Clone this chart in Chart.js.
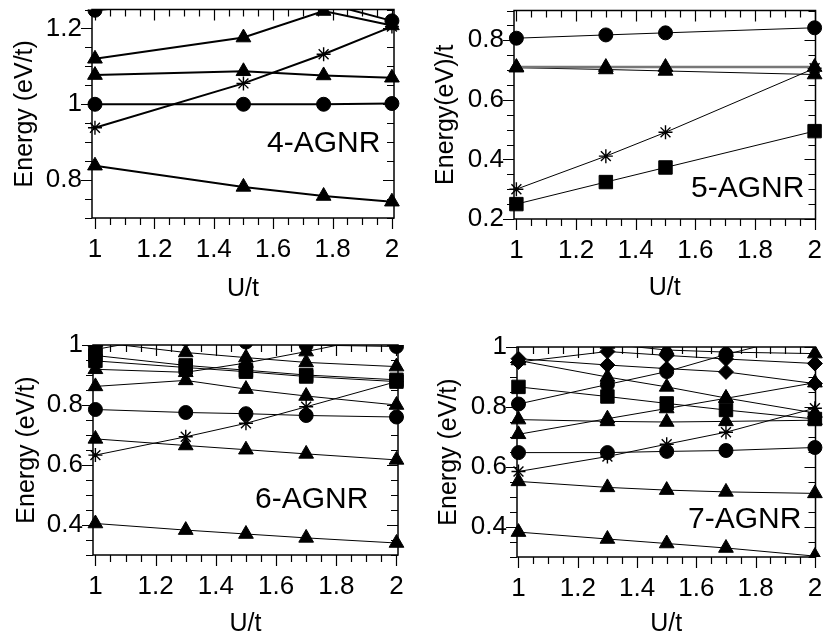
<!DOCTYPE html>
<html lang="en">
<head>
<meta charset="UTF-8">
<title>AGNR energies vs U/t</title>
<script src="https://cdn.jsdelivr.net/npm/chart.js@4.4.1/dist/chart.umd.min.js"></script>
<style>
  body { margin: 0; background: #fff; }
  #wrap { position: relative; width: 826px; height: 639px; font-family: "Liberation Sans", Arial, sans-serif; }
  canvas { position: absolute; }
  .tag { position: absolute; font-size: 30px; line-height: 1; color: #000; white-space: nowrap; }
</style>
</head>
<body>
<div id="wrap">
  <canvas id="c1" width="413" height="310" style="left:0;top:0"></canvas>
  <canvas id="c2" width="413" height="310" style="left:413px;top:0"></canvas>
  <canvas id="c3" width="413" height="329" style="left:0;top:310px"></canvas>
  <canvas id="c4" width="413" height="329" style="left:413px;top:310px"></canvas>
  <div class="tag" style="left:267px;top:127px">4-AGNR</div>
  <div class="tag" style="left:691px;top:172px">5-AGNR</div>
  <div class="tag" style="left:255px;top:483px">6-AGNR</div>
  <div class="tag" style="left:688px;top:503px">7-AGNR</div>
</div>
<script>
// x values (U/t) for each panel
const xs4 = [1, 1.5, 1.77, 2];
const xs5 = [1, 1.3, 1.5, 2];
const xs6 = [1, 1.3, 1.5, 1.7, 2];
const xs7 = [1, 1.3, 1.5, 1.7, 2];

const xTickLabels = [1, 1.2, 1.4, 1.6, 1.8, 2];
const yTicks4 = [0.8, 1, 1.2];
const yTicks5 = [0.2, 0.4, 0.6, 0.8];
const yTicks6 = [0.4, 0.6, 0.8, 1];
const yTicks7 = [0.4, 0.6, 0.8, 1];

// 4-AGNR energies
const a4_tri1 = [0.838, 0.782, 0.758, 0.743];
const a4_circ1 = [1.0, 1.0, 1.0, 1.002];
const a4_star = [0.938, 1.055, 1.132, 1.205];
const a4_tri2 = [1.077, 1.087, 1.076, 1.07];
const a4_tri3 = [1.12, 1.176, 1.246, 1.208];
const a4_circ2 = [1.248, 1.285, 1.268, 1.22];

// 5-AGNR energies
const a5_circ = [0.807, 0.818, 0.825, 0.842];
const a5_triFlat = [0.71, 0.71, 0.71, 0.71];
const a5_tri = [0.708, 0.702, 0.697, 0.685];
const a5_star = [0.30, 0.411, 0.491, 0.706];
const a5_sq = [0.25, 0.324, 0.373, 0.495];

// 6-AGNR energies
const a6_tri1 = [0.405, 0.383, 0.37, 0.357, 0.34];
const a6_tri2 = [0.687, 0.665, 0.651, 0.637, 0.617];
const a6_star = [0.633, 0.694, 0.739, 0.794, 0.878];
const a6_circ1 = [0.785, 0.775, 0.771, 0.765, 0.76];
const a6_tri3 = [0.862, 0.882, 0.853, 0.83, 0.8];
const a6_sq1 = [0.947, 0.925, 0.911, 0.895, 0.878];
const a6_sq2 = [0.965, 0.932, 0.916, 0.9, 0.884];
const a6_tri4 = [0.919, 0.909, 0.94, 0.978, 1.04];
const a6_tri5 = [1.01, 0.975, 0.958, 0.942, 0.928];
const a6_circ2 = [1.03, 1.02, 1.01, 1.0, 0.995];
const a6_sq3 = [0.985, 1.04, 1.08, 1.1, 1.15];

// 7-AGNR energies
const a7_tri1 = [0.383, 0.36, 0.345, 0.33, 0.303];
const a7_tri2 = [0.552, 0.532, 0.523, 0.517, 0.512];
const a7_circ1 = [0.648, 0.648, 0.652, 0.655, 0.665];
const a7_star = [0.585, 0.635, 0.676, 0.716, 0.796];
const a7_tri3 = [0.758, 0.752, 0.75, 0.752, 0.756];
const a7_tri4 = [0.709, 0.761, 0.795, 0.829, 0.881];
const a7_circ2 = [0.81, 0.875, 0.918, 0.975, 1.05];
const a7_sq1 = [0.867, 0.835, 0.812, 0.79, 0.76];
const a7_dia1 = [0.961, 0.94, 0.928, 0.917, 0.878];
const a7_tri5 = [0.955, 0.9, 0.867, 0.83, 0.78];
const a7_dia2 = [0.95, 0.985, 0.972, 0.96, 0.945];
const a7_tri6 = [1.03, 1.01, 0.99, 0.983, 0.978];

const marker = {
  tri: { pointStyle: 'triangle', pointRadius: 8.5 },
  circ: { pointStyle: 'circle', pointRadius: 7 },
  sq: { pointStyle: 'rect', pointRadius: 9.5 },
  dia: { pointStyle: 'rectRot', pointRadius: 7.5 },
  star: { pointStyle: 'star', pointRadius: 7 }
};

function series(xs, ys, kind, lw, color) {
  return Object.assign({
    data: xs.map((x, i) => ({ x: x, y: ys[i] })),
    showLine: true,
    borderColor: color || '#000',
    borderWidth: lw,
    backgroundColor: '#000',
    pointBackgroundColor: '#000',
    pointBorderColor: '#000',
    pointBorderWidth: kind === 'star' ? 1.4 : 1,
    clip: { left: 12, right: 12, top: 0, bottom: 0 }
  }, marker[kind]);
}

// frame plus minor/major ticks (0.05 / 0.2) on all four sides
const frameTicks = {
  id: 'frameTicks',
  afterDatasetsDraw(chart) {
    const { ctx, chartArea: a } = chart;
    const x = chart.scales.x, y = chart.scales.y;
    ctx.save();
    ctx.strokeStyle = '#000';
    ctx.lineWidth = 1.5;
    ctx.strokeRect(a.left, a.top, a.right - a.left, a.bottom - a.top);
    ctx.lineWidth = 1.2;
    ctx.beginPath();
    for (let k = Math.ceil(x.min / 0.05 - 1e-6); k * 0.05 <= x.max + 1e-6; k++) {
      const px = Math.round(x.getPixelForValue(k * 0.05)) + 0.5;
      const len = k % 4 === 0 ? 11 : 7;
      ctx.moveTo(px, a.bottom); ctx.lineTo(px, a.bottom + len);
      ctx.moveTo(px, a.top); ctx.lineTo(px, a.top + len);
    }
    for (let k = Math.ceil(y.min / 0.05 - 1e-6); k * 0.05 <= y.max + 1e-6; k++) {
      const py = Math.round(y.getPixelForValue(k * 0.05)) + 0.5;
      const len = k % 4 === 0 ? 11 : 7;
      ctx.moveTo(a.left, py); ctx.lineTo(a.left - len, py);
      ctx.moveTo(a.right, py); ctx.lineTo(a.right - len, py);
    }
    ctx.stroke();
    ctx.restore();
  }
};

function fmt(v) { return String(+Number(v).toFixed(2)); }

function makePanel(id, datasets, o) {
  new Chart(document.getElementById(id), {
    type: 'scatter',
    data: { datasets: datasets },
    options: {
      responsive: false,
      animation: false,
      layout: { padding: o.pad },
      plugins: { legend: { display: false }, tooltip: { enabled: false } },
      scales: {
        x: {
          type: 'linear', min: o.xmin, max: o.xmax,
          grid: { display: false, drawTicks: false }, border: { display: false },
          afterBuildTicks: s => { s.ticks = xTickLabels.map(v => ({ value: v })); },
          afterFit: s => { s.height = o.xh; s.paddingLeft = 0; s.paddingRight = 0; },
          ticks: { color: '#000', font: { size: 26, family: '"Liberation Sans", Arial' }, padding: 16,
                   maxRotation: 0, minRotation: 0, autoSkip: false, callback: fmt },
          title: { display: true, text: 'U/t', color: '#000', padding: 0,
                   font: { size: 25, family: '"Liberation Sans", Arial' } }
        },
        y: {
          type: 'linear', min: o.ymin, max: o.ymax,
          grid: { display: false, drawTicks: false }, border: { display: false },
          afterBuildTicks: s => { s.ticks = o.yticks.map(v => ({ value: v })); },
          afterFit: s => { s.width = o.yw; s.paddingTop = 0; s.paddingBottom = 0; },
          ticks: { color: '#000', font: { size: 26, family: '"Liberation Sans", Arial' }, padding: 10,
                   autoSkip: false, callback: fmt },
          title: { display: true, text: o.ytitle, color: '#000', padding: 0,
                   font: { size: 25, family: '"Liberation Sans", Arial' } }
        }
      }
    },
    plugins: [frameTicks]
  });
}

makePanel('c1', [
  series(xs4, a4_tri1, 'tri', 2),
  series(xs4, a4_circ1, 'circ', 2),
  series(xs4, a4_star, 'star', 2),
  series(xs4, a4_tri2, 'tri', 2),
  series(xs4, a4_tri3, 'tri', 2),
  series(xs4, a4_circ2, 'circ', 2)
], { pad: { left: 10, top: 5, right: 19, bottom: 6 }, xh: 86, yw: 82,
     xmin: 0.99, xmax: 2.007, ymin: 0.7, ymax: 1.25, yticks: yTicks4, ytitle: 'Energy (eV/t)' });

makePanel('c2', [
  series(xs5, a5_triFlat, 'tri', 2.5, '#777'),
  series(xs5, a5_circ, 'circ', 1),
  series(xs5, a5_tri, 'tri', 1),
  series(xs5, a5_star, 'star', 1),
  series(xs5, a5_sq, 'sq', 1)
], { pad: { left: 18, top: 7, right: 7, bottom: 7 }, xh: 84, yw: 83,
     xmin: 0.992, xmax: 2.003, ymin: 0.2, ymax: 0.9, yticks: yTicks5, ytitle: 'Energy(eV)/t' });

makePanel('c3', [
  series(xs6, a6_tri1, 'tri', 1),
  series(xs6, a6_tri2, 'tri', 1),
  series(xs6, a6_star, 'star', 1),
  series(xs6, a6_circ1, 'circ', 1),
  series(xs6, a6_tri3, 'tri', 1),
  series(xs6, a6_sq1, 'sq', 1),
  series(xs6, a6_sq2, 'sq', 1),
  series(xs6, a6_tri4, 'tri', 1),
  series(xs6, a6_tri5, 'tri', 1),
  series(xs6, a6_circ2, 'circ', 1),
  series(xs6, a6_sq3, 'sq', 1)
], { pad: { left: 12, top: 35, right: 15, bottom: 0 }, xh: 84, yw: 81,
     xmin: 0.992, xmax: 2.005, ymin: 0.3, ymax: 1.0, yticks: yTicks6, ytitle: 'Energy (eV/t)' });

makePanel('c4', [
  series(xs7, a7_tri1, 'tri', 1),
  series(xs7, a7_tri2, 'tri', 1),
  series(xs7, a7_circ1, 'circ', 1),
  series(xs7, a7_star, 'star', 1),
  series(xs7, a7_tri3, 'tri', 1),
  series(xs7, a7_tri4, 'tri', 1),
  series(xs7, a7_circ2, 'circ', 1),
  series(xs7, a7_sq1, 'sq', 1),
  series(xs7, a7_dia1, 'dia', 1),
  series(xs7, a7_tri5, 'tri', 1),
  series(xs7, a7_dia2, 'dia', 1),
  series(xs7, a7_tri6, 'tri', 1)
], { pad: { left: 21, top: 37, right: 5, bottom: 0 }, xh: 82, yw: 83,
     xmin: 0.995, xmax: 2.002, ymin: 0.3, ymax: 1.0, yticks: yTicks7, ytitle: 'Energy (eV/t)' });
</script>
</body>
</html>
